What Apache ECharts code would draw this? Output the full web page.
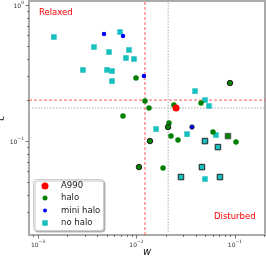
<!DOCTYPE html>
<html><head><meta charset="utf-8">
<script src="https://cdn.jsdelivr.net/npm/echarts@6/dist/echarts.min.js"></script>
<style>html,body{margin:0;padding:0;background:#fff}#c{width:266px;height:256px}</style>
</head><body><div id="c"></div>
<script>
// data: [w, c]
const a990 = [[0.0252, 0.1748]];
const halo = [[0.00729,0.1527],[0.00988,0.2905],[0.0122,0.1968],[0.0134,0.1748],[0.0240,0.1839],[0.0452,0.1903],[0.0214,0.1356],[0.0224,0.1088],[0.0264,0.1017],[0.0598,0.1165],[0.1024,0.0983],[0.0186,0.0633]];
const haloEdged = [[0.0890,0.267],[0.0209,0.1267],[0.0137,0.100],[0.0106,0.0644]];
const haloEdgedSquare = [[0.0849,0.1088]];
const miniHalo = [[0.00468,0.612],[0.00729,0.592],[0.0119,0.301]];
const miniHaloEdged = [[0.0366,0.1267]];
const noHalo = [[0.00145,0.582],[0.0068,0.633],[0.0037,0.491],[0.00526,0.451],[0.00839,0.467],[0.00782,0.408],[0.00943,0.401],[0.00286,0.333],[0.00502,0.333],[0.00564,0.327],[0.00564,0.276],[0.0393,0.233],[0.0496,0.200],[0.0545,0.181],[0.0158,0.1225],[0.0326,0.1125],[0.0641,0.1107],[0.0496,0.0526]];
const noHaloEdged = [[0.0496,0.100],[0.0672,0.0903],[0.0462,0.0644],[0.0283,0.0544],[0.0704,0.0544]];
const redLimits = [0.0122, 0.2];   // [w, c]
const grayLimits = [0.021, 0.175]; // [w, c]
const xRange = [0.00081, 0.2018];
const yRange = [0.0204, 1.07];
const xMajorTicks = [0.001, 0.01, 0.1];
const xMinorTicks = [0.0009,0.002,0.003,0.004,0.005,0.006,0.007,0.008,0.009,0.02,0.03,0.04,0.05,0.06,0.07,0.08,0.09,0.2];
const yMajorTicks = [0.1, 1];
const yMinorTicks = [0.03,0.04,0.05,0.06,0.07,0.08,0.09,0.2,0.3,0.4,0.5,0.6,0.7,0.8,0.9];

const FONT = 'DejaVu Sans';
const edge = {borderColor:'#222', borderWidth:1};
function fmt(v){
  const e = Math.round(Math.log10(v));
  return '{b|10}{s|' + (e < 0 ? '\u2212' + (-e) : e) + '}';
}
const rich = {
  b:{fontSize:6, fontFamily:FONT, color:'#333', lineHeight:9, verticalAlign:'bottom'},
  s:{fontSize:4.5, fontFamily:FONT, color:'#333', lineHeight:9, verticalAlign:'top'}
};
const tickStyle = {color:'#555', width:0.8};
function majorAxis(extra){
  return Object.assign({type:'log', logBase:10, axisLine:{show:false}, splitLine:{show:false},
    axisTick:{show:true, length:3.5, lineStyle:tickStyle},
    axisLabel:{formatter:fmt, rich:rich}}, extra);
}
function minorAxis(extra){
  return Object.assign({type:'log', logBase:10, axisLine:{show:false}, splitLine:{show:false},
    axisLabel:{show:false}, axisTick:{show:true, length:2, lineStyle:tickStyle}}, extra);
}
const nameStyle = {fontSize:10, fontStyle:'italic', fontFamily:FONT, color:'#111'};
const xA0 = majorAxis({min:xRange[0], max:xRange[1], position:'bottom',
  name:'w', nameLocation:'middle', nameGap:12.5, nameMoveOverlap:false, nameTextStyle:nameStyle});
xA0.axisTick.customValues = xMajorTicks;
xA0.axisLabel.customValues = xMajorTicks;
xA0.axisLabel.margin = 4;
const xA1 = minorAxis({min:xRange[0], max:xRange[1], position:'bottom'});
xA1.axisTick.customValues = xMinorTicks;
const yA0 = majorAxis({min:yRange[0], max:yRange[1], position:'left',
  name:'c', nameLocation:'middle', nameGap:22.5, nameMoveOverlap:false, nameTextStyle:nameStyle});
yA0.axisTick.customValues = yMajorTicks;
yA0.axisLabel.customValues = yMajorTicks;
yA0.axisLabel.margin = 5;
const yA1 = minorAxis({min:yRange[0], max:yRange[1], position:'left'});
yA1.axisTick.customValues = yMinorTicks;

function legendFor(name, centerY, size){
  return {data:[name], left:45-size/2, top:centerY-5, orient:'vertical', padding:0, itemGap:0,
    itemWidth:size, itemHeight:size, z:6, selectedMode:false,
    textStyle:{fontSize:8.5, fontFamily:FONT, color:'#222', lineHeight:10, padding:[0,0,0,11-size/2]}};
}
function refLine(name, pts, style){
  return {name:name, type:'line', data:pts, symbol:'none', silent:true, z:1,
    lineStyle:style, itemStyle:{color:style.color}};
}
const redStyle = {color:'#ff4040', type:[3,2], width:1, opacity:0.85};
const grayStyle = {color:'#c8c8c8', type:[1.5,1.5], width:1.5};

const option = {
  animation:false,
  backgroundColor:'#fff',
  grid:{left:29, right:1, top:1, bottom:21, containLabel:false, outerBoundsMode:'none',
    show:true, borderColor:'#aaa', borderWidth:2, backgroundColor:'transparent'},
  xAxis:[xA0, xA1],
  yAxis:[yA0, yA1],
  legend:[legendFor('A990',186,7), legendFor('halo',198,5), legendFor('mini halo',210.5,4), legendFor('no halo',223,5.5)],
  graphic:[
    {type:'rect', left:33, top:179, shape:{width:70, height:51, r:3}, z:5,
      style:{fill:'#fff', stroke:'#ccc', lineWidth:1, shadowColor:'rgba(0,0,0,0.25)', shadowOffsetX:1.5, shadowOffsetY:1.5, shadowBlur:1}},
    {type:'text', left:39, top:8, z:6, style:{text:'Relaxed', fill:'#f00', font:'8.5px "DejaVu Sans"'}},
    {type:'text', left:214, top:212, z:6, style:{text:'Disturbed', fill:'#f00', font:'8.5px "DejaVu Sans"'}}
  ],
  series:[
    refLine('gray w', [[grayLimits[0], yRange[0]], [grayLimits[0], yRange[1]]], grayStyle),
    refLine('gray c', [[xRange[0], grayLimits[1]], [xRange[1], grayLimits[1]]], grayStyle),
    refLine('red w', [[redLimits[0], yRange[0]], [redLimits[0], yRange[1]]], redStyle),
    refLine('red c', [[xRange[0], redLimits[1]], [xRange[1], redLimits[1]]], redStyle),
    {name:'no halo', type:'scatter', symbol:'rect', symbolSize:5.5, z:2,
      itemStyle:{color:'#17bfbf', opacity:1},
      data: noHalo.concat(noHaloEdged.map(p=>({value:p, itemStyle:edge})))},
    {name:'halo', type:'scatter', symbol:'circle', symbolSize:5.5, z:3,
      itemStyle:{color:'#008000', opacity:1},
      data: halo.concat(haloEdged.map(p=>({value:p, itemStyle:edge})))
        .concat(haloEdgedSquare.map(p=>({value:p, symbol:'rect', itemStyle:{borderColor:'#555', borderWidth:1}})))},
    {name:'mini halo', type:'scatter', symbol:'circle', symbolSize:4.5, z:4,
      itemStyle:{color:'#0000ff', opacity:1},
      data: miniHalo.concat(miniHaloEdged.map(p=>({value:p, itemStyle:{borderColor:'#222', borderWidth:0.8}})))},
    {name:'A990', type:'scatter', symbol:'circle', symbolSize:7, z:5,
      itemStyle:{color:'#ff0000', opacity:1}, data:a990}
  ]
};
const chart = echarts.init(document.getElementById('c'), null, {renderer:'canvas'});
chart.setOption(option);
</script></body></html>
